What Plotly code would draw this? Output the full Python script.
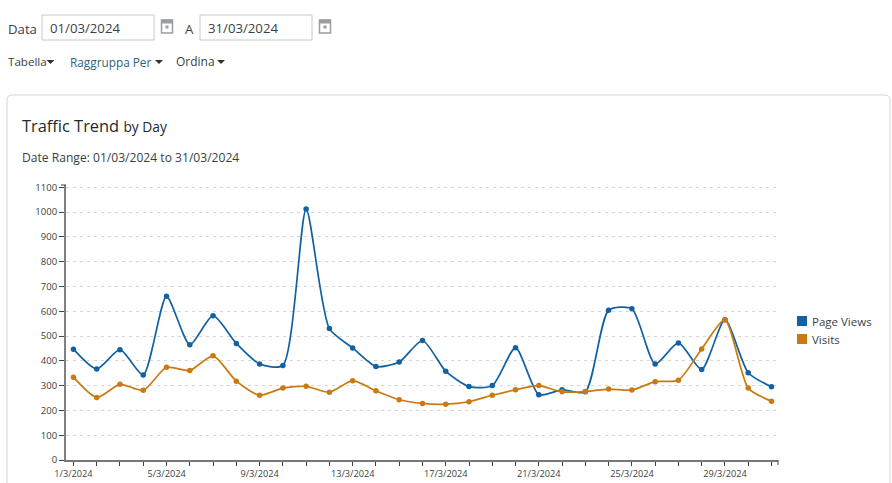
import plotly.graph_objects as go

W, H = 892, 483
days = [f"{d}/3/2024" for d in range(1, 32)]
tick_labels = [d if i % 4 == 0 else "" for i, d in enumerate(days)]
page_views = [447, 367, 445, 343, 660, 465, 582, 470, 387, 381, 1012, 530, 452, 377, 395, 482,
              358, 296, 300, 453, 263, 283, 275, 604, 610, 387, 472, 365, 566, 352, 295]
visits = [334, 252, 305, 281, 374, 361, 420, 318, 261, 290, 297, 273, 320, 279, 243, 228,
          225, 235, 261, 283, 300, 275, 276, 286, 282, 316, 322, 448, 566, 290, 237]
y_ticks = list(range(0, 1101, 100))
BLUE, ORANGE = "#1261a0", "#c97a12"
FONT = "Open Sans"
INK = "#3a3f44"

def px(x): return x / W
def py(y): return 1 - y / H

fig = go.Figure()
series = [("Page Views", page_views, BLUE), ("Visits", visits, ORANGE)]
for name, vals, col in series:
    fig.add_trace(go.Scatter(x=days, y=vals, mode="lines+markers", name=name, showlegend=False,
                             line=dict(color=col, width=1.7, shape="spline", smoothing=0.65),
                             marker=dict(color=col, size=5.5), cliponaxis=False))

def text(x, y, s, size=14, color=INK, anchor="left"):
    return dict(xref="paper", yref="paper", x=px(x), y=py(y), text=s, showarrow=False, xanchor=anchor,
                yanchor="middle", font=dict(family=FONT, size=size, color=color), borderpad=0, borderwidth=0)

ann = [
    text(8, 29, "Data", 13.2), text(185, 29, "A", 13.2),
    text(50, 28, "01/03/2024", 13.2), text(208, 28, "31/03/2024", 13.2),
    text(8, 62, "Tabella", 11.6), text(70, 62, "Raggruppa Per", 11.8, "#2f6478"), text(176, 62, "Ordina", 12),
    text(22, 125, "Traffic Trend <span style='font-size:13.8px'>by Day</span>", 16.4, "#24292e"),
    text(22, 157, "Date Range: 01/03/2024 to 31/03/2024", 12.1),
]

def rect(x0, y0, x1, y1, line="#c4c8cc", fill=None, w=1):
    return dict(type="rect", xref="paper", yref="paper", x0=px(x0), y0=py(y0), x1=px(x1), y1=py(y1),
                line=dict(color=line, width=w), fillcolor=fill, layer="below")

def path(points, fill):
    d = "M" + " L".join(f"{px(a)},{py(b)}" for a, b in points) + " Z"
    return dict(type="path", xref="paper", yref="paper", path=d, fillcolor=fill, line=dict(width=0))

def seg(x0, y0, x1, y1):
    return dict(type="line", xref="paper", yref="paper", x0=px(x0), y0=py(y0), x1=px(x1), y1=py(y1),
                line=dict(color="#444", width=1))

shapes = [rect(42, 15, 154, 40), rect(200, 15, 312, 40)]
for cx in (167, 325):
    shapes += [rect(cx - 5.5, 20, cx + 5.5, 33, "#9a9ea2", None, 1.5),
               rect(cx - 5.5, 20, cx + 5.5, 23, "#9a9ea2", "#9a9ea2", 1),
               rect(cx - 1.5, 25.5, cx + 1.5, 28.5, "#9a9ea2", "#9a9ea2", 0)]
for cx in (50.5, 159, 221):
    shapes.append(path([(cx - 4, 60), (cx + 4, 60), (cx, 64)], "#333333"))
card = dict(type="path", xref="paper", yref="paper", layer="below", fillcolor="white",
            line=dict(color="#d4d6d8", width=1),
            path=f"M{px(7)},{py(490)} L{px(7)},{py(100)} Q{px(7)},{py(95)} {px(12)},{py(95)} "
                 f"L{px(885)},{py(95)} Q{px(890)},{py(95)} {px(890)},{py(100)} L{px(890)},{py(490)} Z")
shapes.insert(0, card)
# axis end caps
shapes += [seg(778, 460, 778, 465), seg(61, 185, 66, 185)]

# legend keys and labels
for (name, _, col), ly in zip(series, (321, 339)):
    shapes.append(rect(797, ly - 5, 807, ly + 5, col, col, 0))
    ann.append(text(812, ly, name, 11.5))

fig.update_layout(
    width=W, height=H, margin=dict(l=0, r=0, t=0, b=0, autoexpand=False),
    paper_bgcolor="white", plot_bgcolor="rgba(0,0,0,0)",
    font=dict(family=FONT, color=INK), annotations=ann, shapes=shapes, showlegend=False,
    xaxis=dict(domain=[px(66), px(778)], type="category", categoryorder="array", categoryarray=days,
               range=[-0.32, 30.28], tickmode="array", tickvals=days, ticktext=tick_labels, tickangle=0,
               ticks="outside", ticklen=4, tickwidth=1, tickcolor="#444", showgrid=False, zeroline=False,
               showline=True, linecolor="#777", linewidth=1.5, tickfont=dict(size=9.2, color=INK)),
    yaxis=dict(domain=[py(460), py(185)], range=[0, 1109], tickmode="array", tickvals=y_ticks,
               ticks="outside", ticklen=5, tickwidth=1, tickcolor="#444", showline=True, linecolor="#808080",
               linewidth=2, gridcolor="#d6d6d6", griddash="3px,4px", gridwidth=1, zeroline=False,
               tickfont=dict(size=9.5, color=INK)),
)
fig.write_html("out.html", config={"displayModeBar": False},
               post_script="document.body.style.margin='0';document.body.style.overflow='hidden';")
